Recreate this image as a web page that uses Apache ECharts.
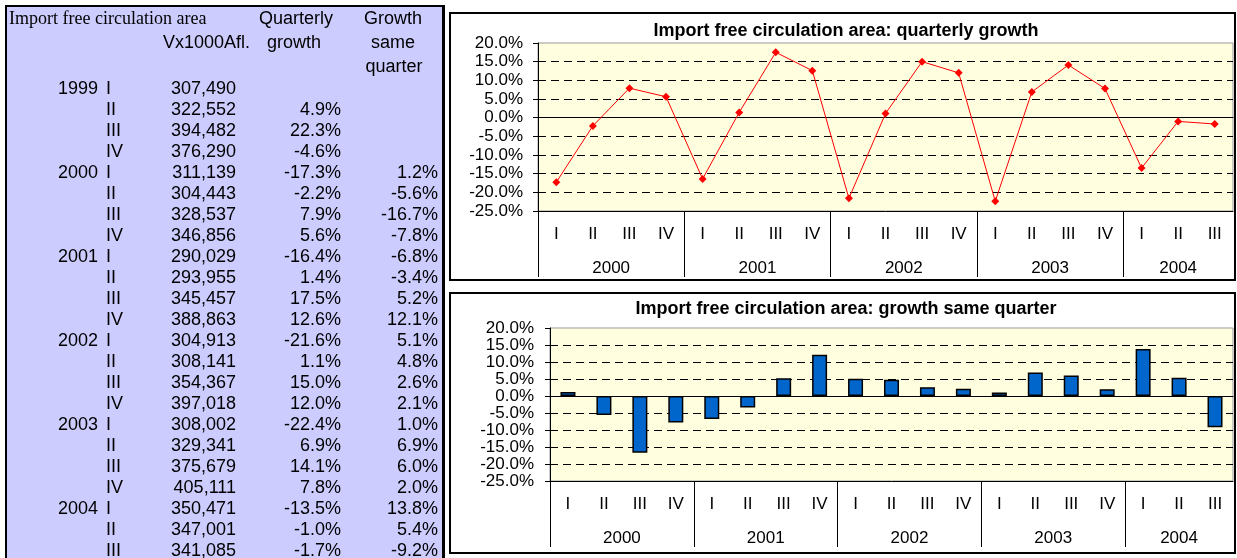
<!DOCTYPE html>
<html>
<head>
<meta charset="utf-8">
<title>Import free circulation area</title>
<script src="https://cdn.jsdelivr.net/npm/echarts@6/dist/echarts.min.js"></script>
<style>
body { margin: 0; background: #fff; }
#chart { position: absolute; left: 0; top: 0; width: 1237px; height: 558px; }
#table {
    position: absolute; left: 5px; top: 5px; width: 435px; height: 553px;
    background: #ccccff; border-left: 2px solid #000; border-top: 2px solid #000; border-right: 3px solid #000;
    font-family: "Liberation Sans", Arial, sans-serif; font-size: 18px; color: #000;
}
#table span { position: absolute; white-space: nowrap; line-height: 20px; width: 200px; }
</style>
</head>
<body>
<div id="chart"></div>
<div id="table"></div>
<script>
// table data, 1999 I .. 2004 III
var firstYear = 1999;
var quarterNames = ['I', 'II', 'III', 'IV'];
var importValues = [307490, 322552, 394482, 376290, 311139, 304443, 328537, 346856, 290029, 293955, 345457, 388863,
    304913, 308141, 354367, 397018, 308002, 329341, 375679, 405111, 350471, 347001, 341085];
var quarterlyGrowth = [null, 4.9, 22.3, -4.6, -17.3, -2.2, 7.9, 5.6, -16.4, 1.4, 17.5, 12.6,
    -21.6, 1.1, 15.0, 12.0, -22.4, 6.9, 14.1, 7.8, -13.5, -1.0, -1.7];
var sameQuarterGrowth = [null, null, null, null, 1.2, -5.6, -16.7, -7.8, -6.8, -3.4, 5.2, 12.1,
    5.1, 4.8, 2.6, 2.1, 1.0, 6.9, 6.0, 2.0, 13.8, 5.4, -9.2];

// charts start at 2000 I
var chartStart = 4;
var yTicks = { min: -25, max: 20, step: 5 };

var font = '"Liberation Sans", Arial, sans-serif';

// ---- table (html) ----
var tableDiv = document.getElementById('table');
function put(text, x, y, align, family) {
    var s = document.createElement('span');
    s.textContent = text;
    var left = align === 'right' ? x - 200 : (align === 'center' ? x - 100 : x);
    s.style.left = (left - 7) + 'px';
    s.style.top = (y - 10 - 7) + 'px';
    s.style.textAlign = align;
    if (family) s.style.fontFamily = family;
    tableDiv.appendChild(s);
}
function pct(v) { return v.toFixed(1) + '%'; }

put('Import free circulation area', 9, 18, 'left', '"Liberation Serif", "Times New Roman", serif');
put('Vx1000Afl.', 250, 42, 'right');
put('Quarterly', 296, 18, 'center');
put('growth', 294, 42, 'center');
put('Growth', 393, 18, 'center');
put('same', 393, 42, 'center');
put('quarter', 394, 66, 'center');

for (var i = 0; i < importValues.length; i++) {
    var y = 88 + i * 21;
    if (i % 4 === 0) put(String(firstYear + i / 4), 98, y, 'right');
    put(quarterNames[i % 4], 106, y, 'left');
    put(importValues[i].toLocaleString('en-US'), 236, y, 'right');
    if (quarterlyGrowth[i] !== null) put(pct(quarterlyGrowth[i]), 341, y, 'right');
    if (sameQuarterGrowth[i] !== null) put(pct(sameQuarterGrowth[i]), 438, y, 'right');
}

// ---- chart data ----
var chartQuarters = [];
var chartQuarterly = quarterlyGrowth.slice(chartStart);
var chartSame = sameQuarterGrowth.slice(chartStart);
var chartYears = [];
var yearBounds = [];
var yearCenters = [];
for (var k = chartStart; k < importValues.length; k++) {
    chartQuarters.push(quarterNames[k % 4]);
}
for (var j = 0; j < chartQuarters.length; j += 4) {
    var n = Math.min(4, chartQuarters.length - j);
    chartYears.push(String(firstYear + (chartStart + j) / 4));
    yearBounds.push(j);
    yearCenters.push(j + n / 2);
}

function yAxisFor(g, margin) {
    return {
        type: 'value', gridIndex: g, min: yTicks.min, max: yTicks.max, interval: yTicks.step,
        axisLine: { show: true, onZero: false, lineStyle: { color: '#000' } },
        axisTick: { show: true, length: 5, lineStyle: { color: '#000' } },
        axisLabel: { margin: margin, color: '#000', fontSize: 17, fontFamily: font, formatter: function (v) { return pct(v); } },
        splitLine: { show: true, showMinLine: false, showMaxLine: false, lineStyle: { color: '#000', type: [8, 5], width: 1 } }
    };
}

function xAxesFor(g, labelMargin, yearMargin) {
    return [{
        type: 'category', gridIndex: g, data: chartQuarters, position: 'bottom',
        axisLine: { onZero: false, lineStyle: { color: '#000' } },
        axisTick: { interval: 0, length: 34, lineStyle: { color: '#000' } },
        axisLabel: { interval: 0, margin: labelMargin, fontSize: 17, fontFamily: font, color: '#000' },
        splitLine: { show: false }
    }, {
        type: 'value', gridIndex: g, min: 0, max: chartQuarters.length, position: 'bottom',
        axisLine: { show: false, onZero: false },
        axisTick: { show: true, customValues: yearBounds, length: 66, lineStyle: { color: '#000' } },
        axisLabel: {
            customValues: yearCenters, margin: yearMargin, fontSize: 17, fontFamily: font, color: '#000',
            formatter: function (v) { return chartYears[yearCenters.indexOf(v)]; }
        },
        splitLine: { show: false }
    }, {
        // zero line with its ticks
        type: 'category', gridIndex: g, data: chartQuarters, position: 'bottom',
        axisLine: { onZero: true, lineStyle: { color: '#000' } },
        axisTick: { interval: 0, length: 5, lineStyle: { color: '#000' } },
        axisLabel: { show: false },
        splitLine: { show: false }
    }];
}

var myChart = echarts.init(document.getElementById('chart'));
var option = {
    animation: false,
    title: [{
        text: 'Import free circulation area: quarterly growth',
        left: 846, top: 22, padding: 0, textAlign: 'center',
        textStyle: { fontSize: 18, fontWeight: 'bold', fontFamily: font, color: '#000' }
    }, {
        text: 'Import free circulation area: growth same quarter',
        left: 846, top: 300, padding: 0, textAlign: 'center',
        textStyle: { fontSize: 18, fontWeight: 'bold', fontFamily: font, color: '#000' }
    }],
    graphic: [{
        type: 'rect', shape: { x: 450, y: 13, width: 785, height: 267 },
        style: { fill: null, stroke: '#000', lineWidth: 2 }
    }, {
        type: 'rect', shape: { x: 450, y: 293, width: 785, height: 260 },
        style: { fill: null, stroke: '#000', lineWidth: 2 }
    }],
    grid: [{
        left: 538, top: 43, width: 695, height: 168,
        show: true, backgroundColor: '#ffffe0', borderColor: '#999', borderWidth: 1
    }, {
        left: 550, top: 328, width: 683, height: 153,
        show: true, backgroundColor: '#ffffe0', borderColor: '#999', borderWidth: 1
    }],
    xAxis: xAxesFor(0, 15, 49).concat(xAxesFor(1, 15, 49)),
    yAxis: [yAxisFor(0, 15), yAxisFor(1, 16)],
    series: [{
        name: 'Quarterly growth', type: 'line', xAxisIndex: 0, yAxisIndex: 0,
        data: chartQuarterly,
        lineStyle: { color: '#ff0000', width: 1 },
        itemStyle: { color: '#ff0000' },
        symbol: 'diamond', symbolSize: 8
    }, {
        name: 'Growth same quarter', type: 'bar', xAxisIndex: 3, yAxisIndex: 1,
        data: chartSame, barWidth: 15,
        itemStyle: { color: '#0066cc', borderColor: '#000', borderWidth: 1.5 }
    }]
};
myChart.setOption(option);
</script>
</body>
</html>
